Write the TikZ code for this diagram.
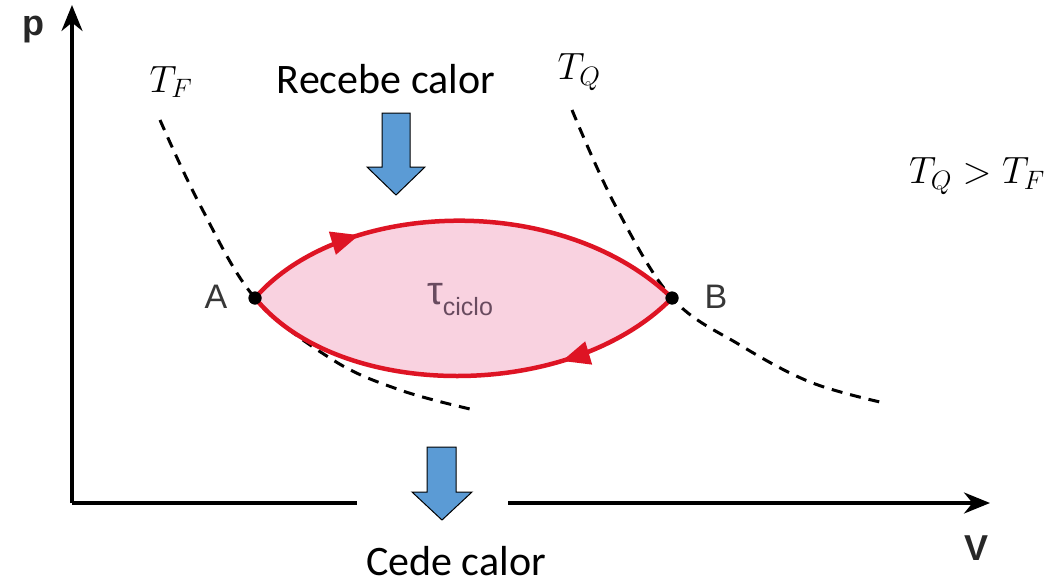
\RequirePackage{fix-cm}
\documentclass[tikz,border=0pt]{standalone}
\usepackage{fontspec}
\setmainfont{Carlito}
\newfontfamily\helv{Liberation Sans}
\usetikzlibrary{arrows.meta,decorations.markings}
\definecolor{cyclered}{RGB}{222,20,36}
\definecolor{cyclefill}{RGB}{249,210,224}
\definecolor{heatblue}{RGB}{91,155,213}
\definecolor{labelgray}{RGB}{55,55,55}
\definecolor{taucol}{RGB}{105,75,95}
\begin{document}
\begin{tikzpicture}[x=1pt,y=-1pt,
  axis/.style={line width=3.5pt,-{Stealth[length=26pt,width=21pt]}},
  isotherm/.style={line width=3pt,dash pattern=on 11pt off 8pt},
  cycle/.style={line width=4.5pt,cyclered},
  heat/.style={fill=heatblue,draw=black,line width=1pt,line join=miter},
  bigtext/.style={font=\fontsize{42}{46}\selectfont,inner sep=0pt},
  mathtext/.style={font=\fontsize{38}{42}\selectfont,inner sep=0pt},
  ptlabel/.style={font=\helv\fontsize{34}{38}\selectfont,text=labelgray,inner sep=0pt},
  axlabel/.style={font=\helv\bfseries\fontsize{36}{40}\selectfont,text=labelgray!70!black,inner sep=0pt},
  dot/.style={circle,fill=black,minimum size=13pt,inner sep=0pt}
]
\useasboundingbox (0,0) rectangle (1064,586);
% coordinates
\coordinate (O) at (72,503);
\coordinate (ptop) at (72,5);
\coordinate (vend) at (990,503);
\coordinate (gapL) at (357,503);
\coordinate (gapR) at (508,503);
% cycle fill
\fill[cyclefill] (255,298) .. controls (340,200) and (560,190) .. (672,298)
   .. controls (570,402) and (340,402) .. (255,298) -- cycle;
% isotherms
\draw[isotherm] plot[smooth,tension=0.6] coordinates {(160,120) (200,205) (255,298) (333,360) (400,390) (470,409)};
\draw[isotherm] plot[smooth,tension=0.6] coordinates {(572,110) (615,205) (672,298) (740,345) (810,382) (880,402)};
% axes
\draw[line width=3.5pt] (O) -- (gapL);
\draw[axis] (gapR) -- (vend);
\draw[axis] (O) -- (ptop);
\node[axlabel] (p) at (33,30) {p};
\node[axlabel] (V) at (976,548) {V};
% points
\node[dot] (A) at (255,298) {};
\node[dot] (B) at (672,298) {};
% cycle curves
\draw[cycle,postaction={decorate},decoration={markings,mark=at position 0.27 with {\arrow{Triangle[length=28pt,width=23pt]}}}]
  (A.center) .. controls (340,200) and (560,190) .. (B.center);
\draw[cycle,postaction={decorate},decoration={markings,mark=at position 0.28 with {\arrow{Triangle[length=28pt,width=23pt]}}}]
  (B.center) .. controls (570,402) and (340,402) .. (A.center);
\node[dot] at (A.center) {};
\node[dot] at (B.center) {};
\node[ptlabel] (Alab) at (216,297) {A};
\node[ptlabel] (Blab) at (716,297) {B};
\node[inner sep=0pt,text=taucol] (tau) at (460,300) {{\helv\fontsize{40}{44}\selectfont τ}\raisebox{-11pt}{\helv\fontsize{25}{28}\selectfont ciclo}};
% labels
\node[mathtext] (TF) at (171,82) {$T_F$};
\node[mathtext] (TQ) at (579,72) {$T_Q$};
\node[mathtext] (TQTF) at (977,176) {$T_Q > T_F$};
\node[bigtext] (rec) at (386,79) {Recebe calor};
\node[bigtext,anchor=base] (cede) at (456,575) {Cede calor};
% heat arrows
\draw[heat] (382,113) -- (410,113) -- (410,167) -- (425,167) -- (396,195) -- (367,167) -- (382,167) -- cycle;
\draw[heat] (427,447) -- (456,447) -- (456,492) -- (472,492) -- (442,520) -- (412,492) -- (427,492) -- cycle;
\end{tikzpicture}
\end{document}
